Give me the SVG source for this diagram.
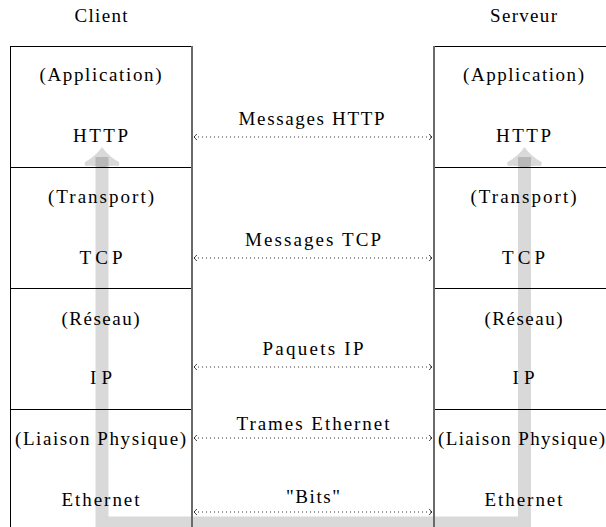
<svg xmlns="http://www.w3.org/2000/svg" width="606" height="527" viewBox="0 0 606 527" font-family="'Liberation Serif', 'DejaVu Serif', serif">
  <defs>
    <marker id="tip" viewBox="-4 -4 8 8" refX="0" refY="0" markerWidth="8" markerHeight="8" markerUnits="userSpaceOnUse" orient="auto-start-reverse" overflow="visible">
      <path d="M -2.8 -3 Q -1.2 -1 0 0 Q -1.2 1 -2.8 3" fill="none" stroke="#222" stroke-width="0.9"/>
    </marker>
  </defs>
  <style>
    text { font-family: "Liberation Serif", "DejaVu Serif", serif; font-size: 19px; fill: #000; text-anchor: middle; }
    .box { fill: none; stroke: #000; stroke-width: 1; }
    .edge { stroke: #6a6a6a; stroke-width: 2; fill: none; }
    .link { stroke: #333; stroke-width: 1; stroke-dasharray: 1 3; fill: none; marker-start: url(#tip); marker-end: url(#tip); }
    .flow { fill: none; stroke: #000; stroke-opacity: 0.15; stroke-width: 13; stroke-linejoin: miter; }
    .head { fill: #000; fill-opacity: 0.15; }
  </style>

  <rect width="606" height="527" fill="#fff"/>

  <!-- data path through the stacks (drawn beneath everything else) -->
  <g id="data-path">
    <polyline class="flow" points="102,157 102,523 524.5,523 524.5,157"/>
    <path class="head" d="M 102 147 Q 108 156 119 162 Q 120 165 118 166 Q 110 165 102 168 Q 94 165 86 166 Q 84 165 85 162 Q 96 156 102 147 Z"/>
    <path class="head" d="M 524.5 147 Q 530.5 156 541.5 162 Q 542.5 165 540.5 166 Q 532.5 165 524.5 168 Q 516.5 165 508.5 166 Q 506.5 165 507.5 162 Q 518.5 156 524.5 147 Z"/>
  </g>

  <!-- column titles -->
  <text x="101" y="22" textLength="53" lengthAdjust="spacing">Client</text>
  <text x="523.5" y="22" textLength="67" lengthAdjust="spacing">Serveur</text>

  <!-- client stack -->
  <g id="client-application">
    <path class="box" d="M 10 46.5 H 192 M 10.5 46 V 167"/>
    <text x="100.5" y="81" textLength="122" lengthAdjust="spacing">(Application)</text>
    <text x="100.5" y="142" textLength="55" lengthAdjust="spacing">HTTP</text>
  </g>
  <g id="client-transport">
    <path class="box" d="M 10 167.5 H 192 M 10.5 167 V 288"/>
    <text x="101" y="203" textLength="106" lengthAdjust="spacing">(Transport)</text>
    <text x="101" y="264" textLength="43" lengthAdjust="spacing">TCP</text>
  </g>
  <g id="client-reseau">
    <path class="box" d="M 10 288.5 H 192 M 10.5 288 V 409"/>
    <text x="100.5" y="325" textLength="78" lengthAdjust="spacing">(Réseau)</text>
    <text x="101" y="384" textLength="22" lengthAdjust="spacing">IP</text>
  </g>
  <g id="client-liaison">
    <path class="box" d="M 10 409.5 H 192 M 10.5 409 V 527"/>
    <text x="100.5" y="445" textLength="171" lengthAdjust="spacing">(Liaison Physique)</text>
    <text x="100.5" y="506" textLength="78" lengthAdjust="spacing">Ethernet</text>
  </g>
  <path class="edge" d="M 192 46 V 527"/>

  <!-- server stack -->
  <g id="server-application">
    <path class="box" d="M 434 46.5 H 606"/>
    <text x="523.5" y="81" textLength="121" lengthAdjust="spacing">(Application)</text>
    <text x="523.5" y="142" textLength="55" lengthAdjust="spacing">HTTP</text>
  </g>
  <g id="server-transport">
    <path class="box" d="M 434 167.5 H 606"/>
    <text x="523.5" y="203" textLength="106" lengthAdjust="spacing">(Transport)</text>
    <text x="523.5" y="264" textLength="43" lengthAdjust="spacing">TCP</text>
  </g>
  <g id="server-reseau">
    <path class="box" d="M 434 288.5 H 606"/>
    <text x="523.5" y="325" textLength="78" lengthAdjust="spacing">(Réseau)</text>
    <text x="523.5" y="384" textLength="22" lengthAdjust="spacing">IP</text>
  </g>
  <g id="server-liaison">
    <path class="box" d="M 434 409.5 H 606"/>
    <text x="521.5" y="445" textLength="167" lengthAdjust="spacing">(Liaison Physique)</text>
    <text x="523.5" y="506" textLength="78" lengthAdjust="spacing">Ethernet</text>
  </g>
  <path class="edge" d="M 434 46 V 527"/>

  <!-- peer-to-peer exchanges -->
  <g id="connectors">
    <line class="link" x1="194" y1="137" x2="432" y2="137"/>
    <line class="link" x1="194" y1="258" x2="432" y2="258"/>
    <line class="link" x1="194" y1="367" x2="432" y2="367"/>
    <line class="link" x1="194" y1="438" x2="432" y2="438"/>
    <line class="link" x1="194" y1="512" x2="432" y2="512"/>
    <text x="311.5" y="125" textLength="146" lengthAdjust="spacing">Messages HTTP</text>
    <text x="313" y="246" textLength="136" lengthAdjust="spacing">Messages TCP</text>
    <text x="313" y="355" textLength="101" lengthAdjust="spacing">Paquets IP</text>
    <text x="313" y="430" textLength="153" lengthAdjust="spacing">Trames Ethernet</text>
    <text x="313" y="503" textLength="54" lengthAdjust="spacing">"Bits"</text>
  </g>
</svg>
